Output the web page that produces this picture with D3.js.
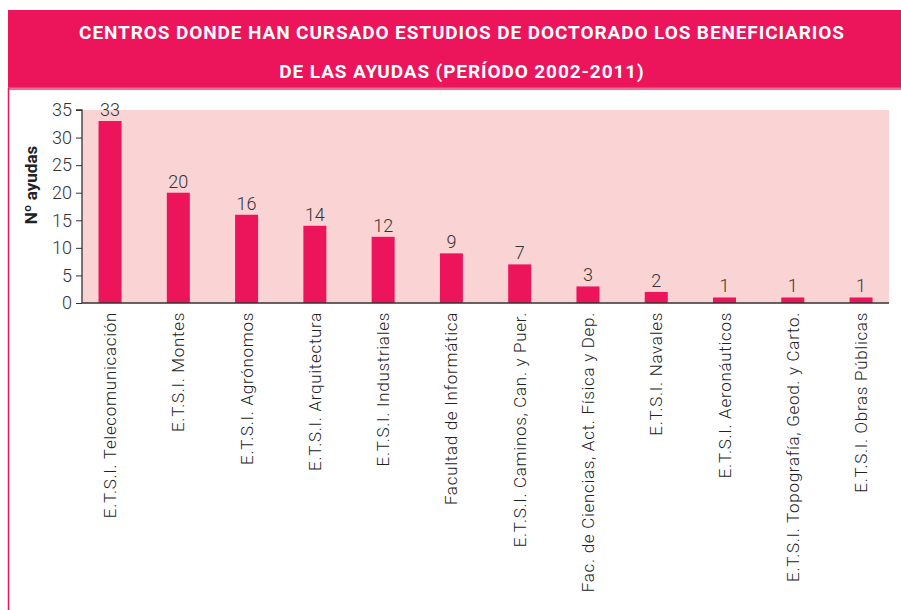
<!DOCTYPE html>
<html>
<head>
<meta charset="utf-8">
<script src="https://cdn.jsdelivr.net/npm/d3@7/dist/d3.min.js"></script>
<style>
  body{margin:0;background:#fff}
  svg text{font-family:Roboto,"Liberation Sans",sans-serif}
</style>
</head>
<body>
<svg id="chart" width="901" height="610"></svg>
<script>
// data
const centros = [
  'E.T.S.I. Telecomunicación','E.T.S.I. Montes','E.T.S.I. Agrónomos','E.T.S.I. Arquitectura',
  'E.T.S.I. Industriales','Facultad de Informática','E.T.S.I. Caminos, Can. y Puer.',
  'Fac. de Ciencias, Act. Física y Dep.','E.T.S.I. Navales','E.T.S.I. Aeronáuticos',
  'E.T.S.I. Topografía, Geod. y Carto.','E.T.S.I. Obras Públicas'
]
const ayudas = [33,20,16,14,12,9,7,3,2,1,1,1]
const yTicks = [0,5,10,15,20,25,30,35]
const titulo = ['CENTROS DONDE HAN CURSADO ESTUDIOS DE DOCTORADO LOS BENEFICIARIOS','DE LAS AYUDAS (PERÍODO 2002-2011)']

const rosa = '#ec145a'
const svg = d3.select('#chart')

// cabecera
svg.append('rect').attr('x',8).attr('y',10).attr('width',893).attr('height',78).attr('fill',rosa)
svg.append('rect').attr('x',8).attr('y',87.5).attr('width',893).attr('height',2.5).attr('fill','#f06a94')
svg.append('line').attr('x1',8.5).attr('x2',8.5).attr('y1',88).attr('y2',610).attr('stroke',rosa).attr('stroke-width',1.5)
svg.selectAll('text.title').data(titulo).join('text')
  .attr('class','title')
  .attr('x',462).attr('y',(d,i)=>39+i*39)
  .attr('text-anchor','middle')
  .attr('fill','#fff').attr('font-weight',700).attr('font-size',19)
  .attr('letter-spacing',0.9)
  .text(d=>d)

const x = d3.scaleBand().domain(centros).range([75.9,895.2]).paddingInner(0.663).paddingOuter(0.3315)
const y = d3.scaleLinear().domain([0,35]).range([303,110])

// fondo del área
svg.append('rect').attr('x',82).attr('y',y(35)).attr('width',807).attr('height',y(0)-y(35)).attr('fill','#fad4d5')

svg.append('g').selectAll('rect').data(ayudas).join('rect')
  .attr('x',(d,i)=>x(centros[i])).attr('width',x.bandwidth())
  .attr('y',d=>y(d)).attr('height',d=>y(0)-y(d))
  .attr('fill',rosa)

svg.append('g').selectAll('text').data(ayudas).join('text')
  .attr('x',(d,i)=>x(centros[i])+x.bandwidth()/2)
  .attr('y',d=>y(d)-5)
  .attr('text-anchor','middle').attr('font-size',18).attr('font-weight',300).attr('fill','#333')
  .text(d=>d)

// ejes
const gy = svg.append('g').attr('transform','translate(82,0)')
  .call(d3.axisLeft(y).tickValues(yTicks).tickSize(6).tickPadding(4))
gy.select('.domain').attr('stroke','#333').attr('stroke-width',1.3).attr('d',`M-6,${y(35)}H0V${y(0)}`)
gy.selectAll('.tick line').attr('stroke','#333')
gy.selectAll('.tick text').attr('font-size',18).attr('font-weight',300).attr('fill','#333')
  .style('font-family','Roboto,sans-serif')

svg.append('line').attr('x1',82).attr('x2',889).attr('y1',y(0)).attr('y2',y(0)).attr('stroke','#333').attr('stroke-width',1.5)

svg.append('g').selectAll('text').data(centros).join('text')
  .attr('transform',d=>`translate(${x(d)+x.bandwidth()/2+6},312) rotate(-90)`)
  .attr('text-anchor','end').attr('font-size',17).attr('font-weight',300).attr('fill','#222')
  .attr('letter-spacing',0.7)
  .text(d=>d)

svg.append('text')
  .attr('transform','translate(37,185) rotate(-90)')
  .attr('text-anchor','middle').attr('font-size',17).attr('font-weight',700).attr('fill','#222')
  .text('Nº ayudas')
</script>
</body>
</html>
